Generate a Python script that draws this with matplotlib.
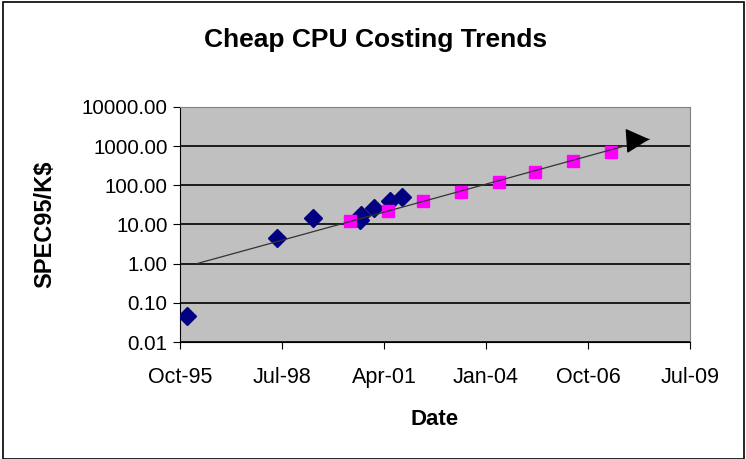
import datetime as dt
import matplotlib
matplotlib.use('Agg')
import matplotlib.pyplot as plt
import matplotlib.dates as mdates
from matplotlib.patches import Rectangle

#======#
# Data #
#======#

# Older measured CPUs (blue diamonds)
old_dates = ['1996-01-08', '1998-06-05', '1999-05-21', '2000-08-28',
             '2000-09-08', '2001-01-08', '2001-06-14', '2001-10-10']
old_values = [0.047, 4.6, 14.8, 13.2, 17.0, 27.0, 40.0, 50.0]

# Yearly projected points (pink squares)
proj_dates = ['2000-05-20', '2001-05-28', '2002-05-10', '2003-05-17', '2004-05-20',
              '2005-05-11', '2006-05-16', '2007-05-26']
proj_values = [12.0, 21.5, 39.0, 68.0, 124.0, 218.0, 413.0, 703.0]

# Trend arrow (start, tip)
trend_dates = ['1996-04-09', '2008-06-01']
trend_values = [1.0, 1500.0]

x_start = dt.date(1995, 10, 28)
tick_step_days = 1000
y_ticks = [0.01, 0.1, 1, 10, 100, 1000, 10000]

to_date = lambda s: dt.datetime.strptime(s, '%Y-%m-%d')

#======#
# Plot #
#======#

plt.rcParams['font.family'] = ['Liberation Sans', 'DejaVu Sans']

fig = plt.figure(figsize=(7.46, 4.59), dpi=100)
ax = fig.add_axes([0.2413, 0.2549, 0.6836, 0.512])
ax.set_facecolor('#C0C0C0')

ax.plot([to_date(d) for d in old_dates], old_values, 'D', color='#000080',
        markersize=9, linestyle='none', zorder=3)
ax.plot([to_date(d) for d in proj_dates], proj_values, 's', color='#FF00FF',
        markersize=8.5, linestyle='none', zorder=3)

td = [to_date(d) for d in trend_dates]
ax.plot(td, trend_values, color='#333333', linewidth=0.9, zorder=4)
ax.annotate('', xy=(td[1], trend_values[1]), xytext=(td[1] - dt.timedelta(days=200), trend_values[1] / 1.09),
            arrowprops=dict(arrowstyle='-|>,head_length=0.6,head_width=0.32', color='black',
                            lw=0.9, mutation_scale=25, shrinkA=0, shrinkB=0), zorder=5)

ax.set_yscale('log')
ax.set_ylim(0.01, 10000)
ax.set_yticks(y_ticks)
ax.set_yticklabels([f'{v:.2f}' for v in y_ticks])
ax.minorticks_off()
ax.yaxis.grid(True, color='black', linewidth=1.2)

xt = [x_start + dt.timedelta(days=tick_step_days * k) for k in range(6)]
ax.set_xlim(xt[0], xt[-1])
ax.set_xticks(xt)
ax.xaxis.set_major_formatter(mdates.DateFormatter('%b-%y'))

for side in ['top', 'right']:
    ax.spines[side].set_color('#808080')
for side in ['left', 'bottom']:
    ax.spines[side].set_color('black')
ax.tick_params(axis='both', length=5, direction='out')
ax.tick_params(axis='y', labelsize=14.8, pad=4)
ax.tick_params(axis='x', labelsize=15.5, pad=13)

# title sits centred on the whole chart, not on the plot area
ax.set_title('Cheap CPU Costing Trends', fontsize=19, fontweight='bold', pad=43, x=0.384)
ax.set_xlabel('Date', fontsize=16, fontweight='bold', labelpad=15)
ax.set_ylabel('SPEC95/K$', fontsize=17, fontweight='bold', labelpad=18)

fig.patches.append(Rectangle((0.004, 0.0), 0.993, 0.995, transform=fig.transFigure,
                             fill=False, edgecolor='black', linewidth=1.2))

plt.savefig('out.png', dpi=100)
